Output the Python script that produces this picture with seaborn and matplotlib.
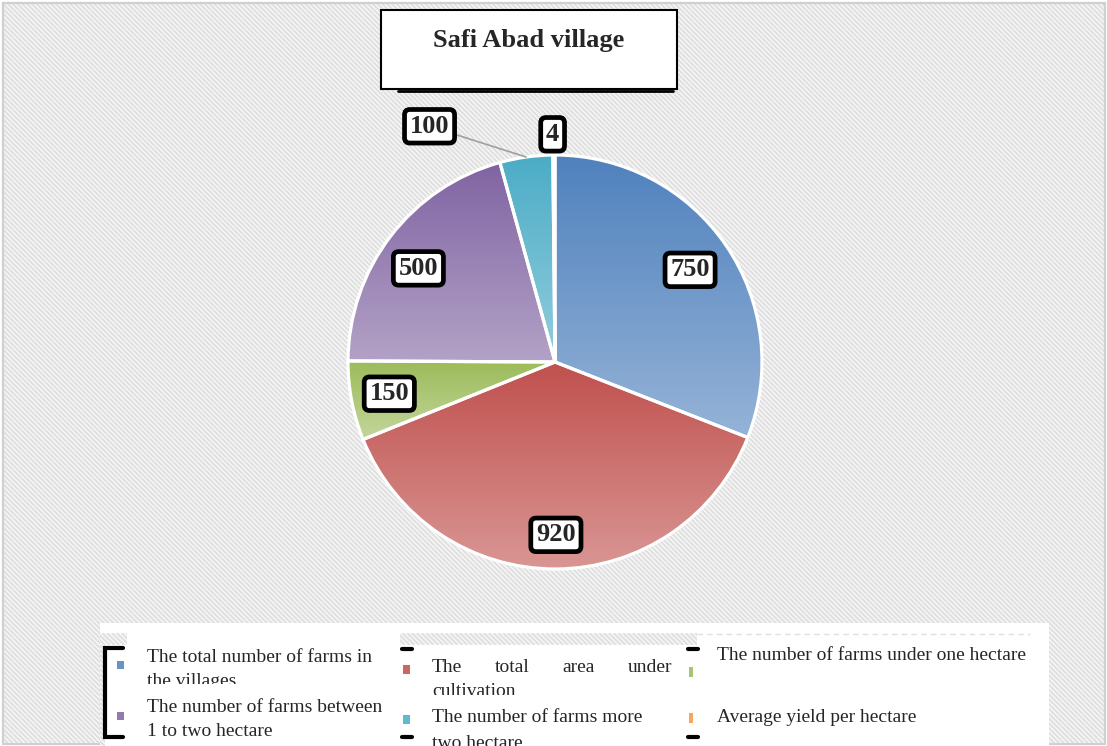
import numpy as np
import matplotlib
matplotlib.use("Agg")
import matplotlib.pyplot as plt
import seaborn as sns
import textwrap
from matplotlib.patches import Rectangle
from matplotlib.collections import LineCollection
from matplotlib.colors import to_rgb
from matplotlib.transforms import Bbox

# ---------------- data ----------------
title = "Safi Abad village"
categories = [
    "The total number of farms in the villages",
    "The total area under cultivation",
    "The number of farms under one hectare",
    "The number of farms between 1 to two hectare",
    "The number of farms more two hectare",
    "Average yield per hectare",
]
values = [750, 920, 150, 500, 100, 4]
top_colors = ["#4F81BD", "#C0504D", "#9BBB59", "#8064A2", "#4BACC6", "#F79646"]
bottom_colors = ["#95B3D7", "#D99694", "#C3D69B", "#B3A2C7", "#93CDDD", "#FAC090"]

# ---------------- style ----------------
sns.set_theme(style="white")
plt.rcParams["font.family"] = ["Liberation Serif", "DejaVu Serif"]

W, H = 1107, 746
fig = plt.figure(figsize=(W / 100, H / 100), dpi=100)
bg = fig.add_axes([0, 0, 1, 1])
bg.set_xlim(0, W)
bg.set_ylim(H, 0)
bg.axis("off")


def hatch(x, y, w, h, z=1):
    rect = Rectangle((x, y), w, h, facecolor="#f9f9f9", edgecolor="none", zorder=z)
    bg.add_patch(rect)
    segs = [[(c, y), (c + h, y + h)] for c in np.arange(x - h, x + w, 4.8)]
    lc = LineCollection(segs, colors="#e0e0e0", linewidths=1.5, zorder=z + 0.1)
    bg.add_collection(lc)
    lc.set_clip_path(rect)


hatch(3, 3, W - 6, H - 6)
bg.add_patch(Rectangle((2.5, 2.5), W - 5, H - 5, facecolor="none",
                       edgecolor="#d0d0d0", lw=1.6, zorder=1.5))

# ---------------- pie ----------------
R = 207
cx, cy = 555, 362
half = 300
ax = fig.add_axes([(cx - half) / W, (H - cy - half) / H, 2 * half / W, 2 * half / H])
wedges, _ = ax.pie(values, startangle=90, counterclock=False, radius=1,
                   wedgeprops=dict(edgecolor="white", linewidth=2.3))
g = np.linspace(0, 1, 256)[:, None, None]
for w, tc, bc in zip(wedges, top_colors, bottom_colors):
    w.set_facecolor("none")
    w.set_zorder(3)
    ext = w.get_path().get_extents()
    arr = np.array(to_rgb(tc))[None, None, :] * (1 - g) + np.array(to_rgb(bc))[None, None, :] * g
    im = ax.imshow(arr, extent=(ext.x0, ext.x1, ext.y0, ext.y1), origin="upper",
                   aspect="auto", zorder=2, interpolation="bilinear")
    im.set_clip_path(w)
L = half / R
ax.set_xlim(-L, L)
ax.set_ylim(-L, L)
ax.axis("off")
ax.patch.set_alpha(0)

label_r = [0.79, 0.835, 0.815, 0.80, 1.29, 1.10]
label_da = [0, 0, 0, 3, 20, 0.3]
box = dict(boxstyle="round,pad=0.2,rounding_size=0.2", fc="white", ec="black", lw=3.4)
for i, (w, v) in enumerate(zip(wedges, values)):
    mid = np.deg2rad((w.theta1 + w.theta2) / 2)
    ang = mid + np.deg2rad(label_da[i])
    pos = (label_r[i] * np.cos(ang), label_r[i] * np.sin(ang))
    if i == 4:
        ax.annotate(str(v), xy=(np.cos(mid), np.sin(mid)), xytext=pos,
                    ha="center", va="center", fontsize=19, fontweight="bold",
                    bbox=box, zorder=6,
                    arrowprops=dict(arrowstyle="-", color="#a0a0a0", lw=1.2,
                                    shrinkA=0, shrinkB=0))
    else:
        ax.text(pos[0], pos[1], str(v), ha="center", va="center", fontsize=19,
                fontweight="bold", bbox=box, zorder=6)

# ---------------- title ----------------
bg.add_patch(Rectangle((381, 10), 296, 79, facecolor="white", edgecolor="black",
                       lw=1.5, zorder=5))
bg.plot([398, 673], [90.5, 90.5], color="black", lw=2, zorder=4.9)
bg.text(529, 40, title, ha="center", va="center", fontsize=19, fontweight="bold",
        zorder=6)

# ---------------- legend ----------------
bg.add_patch(Rectangle((100, 623), 949, 130, facecolor="white", edgecolor="none", zorder=3))
hatch(100, 633, 27, 12, z=3.2)
hatch(100, 645, 5, 101, z=3.2)
hatch(400, 633, 297, 12, z=3.2)
bg.plot([697, 1030], [633.5, 633.5], color="#e0e0e0", lw=1, ls=(0, (4, 3)), zorder=3.3)

bg.plot([123, 104.5, 104.5, 123], [648, 648, 737, 737], color="black", lw=3, zorder=4,
        solid_joinstyle="miter")
for xd in (402, 688):
    for yd in (648.5, 737):
        bg.plot([xd, xd + 10], [yd, yd], color="black", lw=3, zorder=4)

text_x = [147, 432, 717]
mark_x = [120, 406, 691]
line_y = [[657, 707], [667, 718], [656, 718]]
mark_y = [[665, 716], [669, 719], [672, 718]]
mark_size = [(7, 8), (7, 9), (4, 10)]
wrap_w = [28, 24, 40]
clip_y = [684, 695, 746]
just_w = [None, 240, None]
FS = 14

fig.canvas.draw()
renderer = fig.canvas.get_renderer()

for i, cat in enumerate(categories):
    col, row = i % 3, i // 3
    mw, mh = mark_size[col]
    col_mid = 0.65 * np.array(to_rgb(top_colors[i])) + 0.35 * np.array(to_rgb(bottom_colors[i]))
    bg.add_patch(Rectangle((mark_x[col] - mw / 2, mark_y[col][row] - mh / 2), mw, mh,
                           facecolor=col_mid, edgecolor="none", zorder=4))
    lines = textwrap.wrap(cat, wrap_w[col])
    for j, line in enumerate(lines):
        y = line_y[col][row] + j * 25
        texts = []
        if just_w[col] is not None and row == 0 and j < len(lines) - 1:
            words = line.split()
            ws = []
            for wd in words:
                t = bg.text(0, y, wd, ha="left", va="center", fontsize=FS, zorder=5)
                ws.append(t.get_window_extent(renderer).width)
                texts.append(t)
            gap = (just_w[col] - sum(ws)) / (len(words) - 1)
            xx = text_x[col]
            for t, wdt in zip(texts, ws):
                t.set_x(xx)
                xx += wdt + gap
        else:
            texts.append(bg.text(text_x[col], y, line, ha="left", va="center",
                                 fontsize=FS, zorder=5))
        if row == 0 and j == 1:
            for t in texts:
                t.set_clip_on(True)
                t.set_clip_box(Bbox.from_extents(0, H - clip_y[col], W, H))

fig.savefig("out.png", dpi=100)
